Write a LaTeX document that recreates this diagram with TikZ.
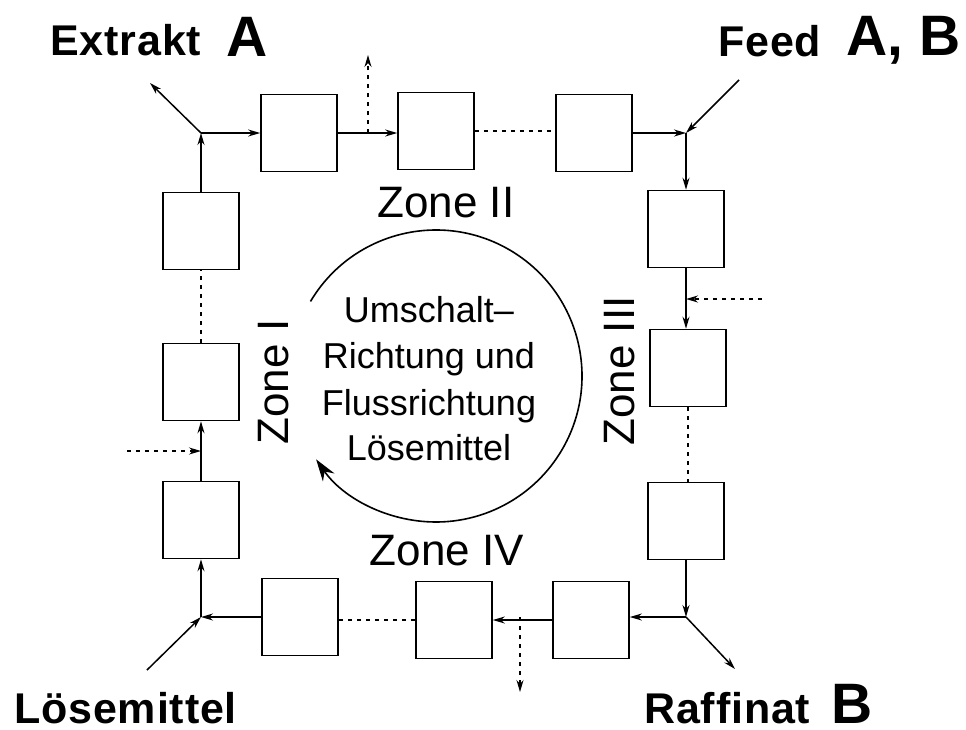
\documentclass[tikz,border=0pt]{standalone}
\usepackage{fontspec}
\setmainfont{Liberation Sans}
\usetikzlibrary{arrows.meta}
\begin{document}
\begin{tikzpicture}[x=1pt,y=-1pt,
  column/.style={draw, line width=1.6pt, minimum width=76pt, minimum height=77pt, inner sep=0pt},
  pipe/.style={line width=1.5pt},
  flow/.style={pipe, -{Stealth[length=12pt,width=7pt]}},
  gap/.style={line width=1.4pt, dash pattern=on 4pt off 5pt},
  side/.style={gap, -{Stealth[length=12pt,width=7pt]}},
  streamlabel/.style={font=\fontsize{43}{50}\selectfont\bfseries\addfontfeature{LetterSpace=2}, inner sep=0pt, text depth=0pt, anchor=base west},
  component/.style={font=\fontsize{57}{64}\selectfont\bfseries, inner sep=0pt, text depth=0pt, anchor=base west},
  zonelabel/.style={font=\fontsize{44}{50}\selectfont, inner sep=0pt, anchor=base},
  note/.style={font=\fontsize{36}{44}\selectfont, inner sep=0pt, anchor=base}]
\useasboundingbox (0,0) rectangle (966,729);

% columns of the simulated moving bed
\node[column] (t1) at (299,133) {};
\node[column] (t2) at (436,131) {};
\node[column] (t3) at (594,133) {};
\node[column] (r1) at (686,229) {};
\node[column] (r2) at (688,368) {};
\node[column] (r3) at (686,521) {};
\node[column] (b1) at (591,620) {};
\node[column] (b2) at (454,620) {};
\node[column] (b3) at (300,617) {};
\node[column] (l1) at (201,520) {};
\node[column] (l2) at (201,382) {};
\node[column] (l3) at (201,231) {};

% ports
\coordinate (jtl) at (201,133);
\coordinate (jtr) at (686,133);
\coordinate (jbr) at (686,617);
\coordinate (jbl) at (201,617);
\coordinate (ex) at (150,83);
\coordinate (fd) at (739,80);
\coordinate (rf) at (735,669);
\coordinate (lm) at (147,670);
\coordinate (outtop) at (368,55);
\coordinate (outbot) at (520,692);
\coordinate (inright) at (762,299);
\coordinate (inleft) at (127,451);

% top row
\draw[flow] (jtl) -- (t1.west);
\draw[flow] (t1.east) -- (t1.east -| t2.west);
\draw[gap] (t2.east) -- (t2.east -| t3.west);
\draw[flow] (t3.east) -- (jtr);
\draw[side] (outtop |- jtl) -- (outtop);
% right column
\draw[flow] (jtr) -- (r1.north);
\draw[flow] (r1.south) -- (r1.south |- r2.north);
\draw[side] (inright) -- (inright -| jtr);
\draw[gap] (r2.south) -- (r2.south |- r3.north);
\draw[flow] (r3.south) -- (jbr);
% bottom row
\draw[flow] (jbr) -- (jbr -| b1.east);
\draw[flow] (b1.west) -- (b1.west -| b2.east);
\draw[side] (outbot |- jbr) -- (outbot);
\draw[gap] (b2.west) -- (b2.west -| b3.east);
\draw[flow] (b3.west) -- (jbl);
% left column
\draw[flow] (jbl) -- (l1.south);
\draw[flow] (l1.north) -- (l2.south);
\draw[side] (inleft) -- (inleft -| jbl);
\draw[gap] (l2.north) -- (l3.south);
\draw[flow] (l3.north) -- (jtl);
% inlet and outlet streams
\draw[flow] (jtl) -- (ex);
\draw[flow] (fd) -- (jtr);
\draw[flow] (jbr) -- (rf);
\draw[flow] (lm) -- (jbl);

% stream labels
\node[streamlabel] (lex) at (50,55) {Extrakt};
\node[component] (cex) at (226,56) {A};
\node[streamlabel] (lfd) at (718,56) {Feed};
\node[component] (cfd) at (846,55) {A, B};
\node[streamlabel] (llm) at (14,723) {Lösemittel};
\node[streamlabel] (lrf) at (644,723) {Raffinat};
\node[component] (crf) at (831,723) {B};

% zones
\node[zonelabel] (z2) at (446,217) {Zone II};
\node[zonelabel] (z4) at (447,565) {Zone IV};
\node[zonelabel, rotate=90] (z1) at (288,382) {Zone I};
\node[zonelabel, rotate=90] (z3) at (634,371) {Zone III};

% switching direction
\coordinate (c) at (436,376);
\draw[line width=1.6pt, -{Stealth[length=22pt,width=14pt]}]
  (c) ++(-149.3:146) arc[start angle=-149.3, end angle=145.2, radius=146];
\node[note] (n1) at (429,322) {Umschalt–};
\node[note] (n2) at (429,368) {Richtung und};
\node[note] (n3) at (429,415) {Flussrichtung};
\node[note] (n4) at (429,460) {Lösemittel};
\end{tikzpicture}
\end{document}
